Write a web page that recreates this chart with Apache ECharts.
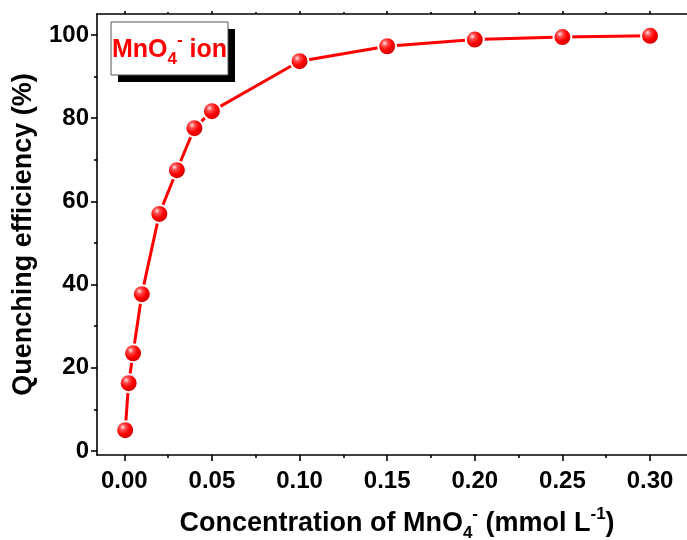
<!DOCTYPE html>
<html><head><meta charset="utf-8">
<script src="https://cdn.jsdelivr.net/npm/echarts@6/dist/echarts.min.js"></script>
<style>html,body{margin:0;padding:0;background:#fff;overflow:hidden}#c{width:687px;height:540px}</style>
</head><body><div id="c"></div>
<script>
var concentration = [0.0005, 0.0025, 0.005, 0.01, 0.02, 0.03, 0.04, 0.05, 0.10, 0.15, 0.20, 0.25, 0.30];
var efficiency = [5.0, 16.3, 23.5, 37.7, 57.0, 67.5, 77.6, 81.7, 93.7, 97.3, 98.9, 99.5, 99.8];
var xMajor = [0, 0.05, 0.10, 0.15, 0.20, 0.25, 0.30];
var xMinor = [0.025, 0.075, 0.125, 0.175, 0.225, 0.275, 0.325];
var yMajor = [0, 20, 40, 60, 80, 100];
var yMinor = [10, 30, 50, 70, 90];

var XMIN = -0.01558, XMAX = 0.3268, YMIN = -0.96, YMAX = 105.05;
var FONT = '"Liberation Sans", Arial, sans-serif';
var lineStyle = {color: '#000', width: 1.6};

function xAx(pos, vals, len, showLine, showLabel, extra) {
  var a = {
    type: 'value', position: pos, min: XMIN, max: XMAX, gridIndex: 0,
    axisLine: {show: showLine, lineStyle: lineStyle, onZero: false},
    axisTick: {show: true, inside: false, length: len, lineStyle: lineStyle, customValues: vals},
    axisLabel: showLabel ? {show: true, customValues: vals, margin: 14, color: '#000', fontWeight: 'bold', fontSize: 24, fontFamily: FONT,
      formatter: function (v) { return v.toFixed(2); }} : {show: false},
    splitLine: {show: false}
  };
  return Object.assign(a, extra || {});
}
function yAx(pos, vals, len, showLine, showLabel, extra) {
  var a = {
    type: 'value', position: pos, min: YMIN, max: YMAX, gridIndex: 0,
    axisLine: {show: showLine, lineStyle: lineStyle, onZero: false},
    axisTick: {show: true, inside: false, length: len, lineStyle: lineStyle, customValues: vals},
    axisLabel: showLabel ? {show: true, customValues: vals, margin: 8, color: '#000', fontWeight: 'bold', fontSize: 24, fontFamily: FONT} : {show: false},
    splitLine: {show: false}
  };
  return Object.assign(a, extra || {});
}

var subRich = {
  m: {fontSize: 27, fontWeight: 'bold', fontFamily: FONT, color: '#000', lineHeight: 36, verticalAlign: 'middle'},
  sub: {fontSize: 17, fontWeight: 'bold', fontFamily: FONT, color: '#000', lineHeight: 17, verticalAlign: 'bottom'},
  sup: {fontSize: 17, fontWeight: 'bold', fontFamily: FONT, color: '#000', lineHeight: 17, verticalAlign: 'top'}
};

var chart = echarts.init(document.getElementById('c'), null, {renderer: 'canvas'});
chart.setOption({
  animation: false,
  backgroundColor: '#fff',
  grid: {left: 97, top: 14, width: 600, height: 441, containLabel: false, outerBoundsMode: 'none'},
  xAxis: [
    xAx('bottom', xMajor, 6, true, true, {
      name: '{m|Concentration of MnO}{sub|4}{sup|-}{m| (mmol L}{sup|-1}{m|)}',
      nameLocation: 'middle', nameGap: 51,
      nameTextStyle: {rich: subRich}
    }),
    xAx('bottom', xMinor, 3, false, false),
    xAx('top', xMajor, 3, true, false),
    xAx('top', xMinor, 2, false, false)
  ],
  yAxis: [
    yAx('left', yMajor, 6, true, true, {
      name: 'Quenching efficiency (%)', nameLocation: 'middle', nameGap: 60,
      nameTextStyle: {fontSize: 27, fontWeight: 'bold', fontFamily: FONT, color: '#000'}
    }),
    yAx('left', yMinor, 3, false, false),
    yAx('right', yMajor, 3, true, false),
    yAx('right', yMinor, 2, false, false)
  ],
  series: [{
    type: 'line',
    xAxisIndex: 0, yAxisIndex: 0,
    data: concentration.map(function (c, i) { return [c, efficiency[i]]; }),
    symbol: 'circle', symbolSize: 18,
    lineStyle: {color: '#ff0000', width: 3},
    itemStyle: {
      color: {type: 'radial', x: 0.38, y: 0.35, r: 0.65, colorStops: [
        {offset: 0, color: '#ffe6e6'}, {offset: 0.22, color: '#ff5050'},
        {offset: 0.55, color: '#ff0000'}, {offset: 1, color: '#c00000'}]},
      borderColor: '#fff', borderWidth: 2
    },
    z: 3
  }],
  graphic: [
    {type: 'rect', shape: {x: 118, y: 29, width: 117, height: 53}, style: {fill: '#000'}, z: 10},
    {type: 'rect', shape: {x: 111, y: 22, width: 117, height: 53}, style: {fill: '#fff', stroke: '#555', lineWidth: 1}, z: 11},
    {type: 'text', x: 169.5, y: 50, z: 12,
      style: {
        text: '{m|MnO}{sub|4}{sup|-}{m| ion}',
        align: 'center', verticalAlign: 'middle',
        rich: {
          m: {fontSize: 25, fontWeight: 'bold', fontFamily: FONT, fill: '#ff0000', lineHeight: 36, verticalAlign: 'middle'},
          sub: {fontSize: 17, fontWeight: 'bold', fontFamily: FONT, fill: '#ff0000', lineHeight: 17, verticalAlign: 'bottom'},
          sup: {fontSize: 17, fontWeight: 'bold', fontFamily: FONT, fill: '#ff0000', lineHeight: 17, verticalAlign: 'top'}
        }
      }}
  ]
});
</script></body></html>
